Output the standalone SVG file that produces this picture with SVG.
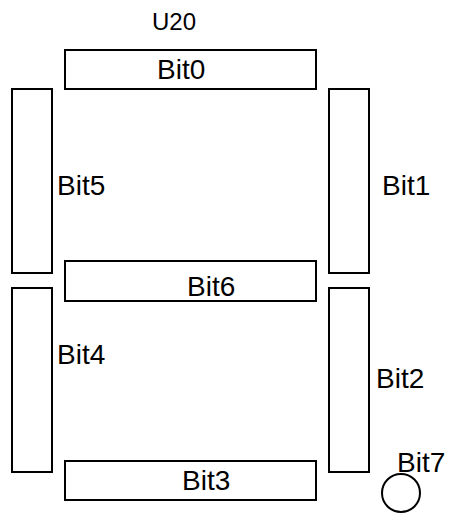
<svg xmlns="http://www.w3.org/2000/svg" width="451" height="513" viewBox="0 0 451 513">
<style>
.seg{fill:#fff;stroke:#000;stroke-width:2}
.t{font-family:"Liberation Sans",Arial,sans-serif;font-size:28px;fill:#000}
.u{font-family:"Liberation Sans",Arial,sans-serif;font-size:24px;fill:#000}
</style>
<rect width="451" height="513" fill="#fff"/>
<text id="title" class="u" x="152" y="30">U20</text>
<g id="bit0"><rect class="seg" x="65" y="50" width="251" height="39"/><text class="t" x="157" y="79">Bit0</text></g>
<g id="bit5"><rect class="seg" x="12" y="89" width="40" height="184"/><text class="t" x="57" y="195">Bit5</text></g>
<g id="bit1"><rect class="seg" x="329" y="89" width="40" height="184"/><text class="t" x="382" y="195">Bit1</text></g>
<g id="bit6"><rect class="seg" x="65" y="261" width="251" height="40"/><text class="t" x="187" y="296">Bit6</text></g>
<g id="bit4"><rect class="seg" x="12" y="288" width="40" height="184"/><text class="t" x="57" y="364">Bit4</text></g>
<g id="bit2"><rect class="seg" x="329" y="288" width="40" height="184"/><text class="t" x="376" y="388">Bit2</text></g>
<g id="bit3"><rect class="seg" x="65" y="461" width="251" height="39"/><text class="t" x="182" y="490">Bit3</text></g>
<g id="bit7"><circle class="seg" cx="401" cy="493" r="19" fill="none"/><text class="t" x="397" y="472">Bit7</text></g>
</svg>
